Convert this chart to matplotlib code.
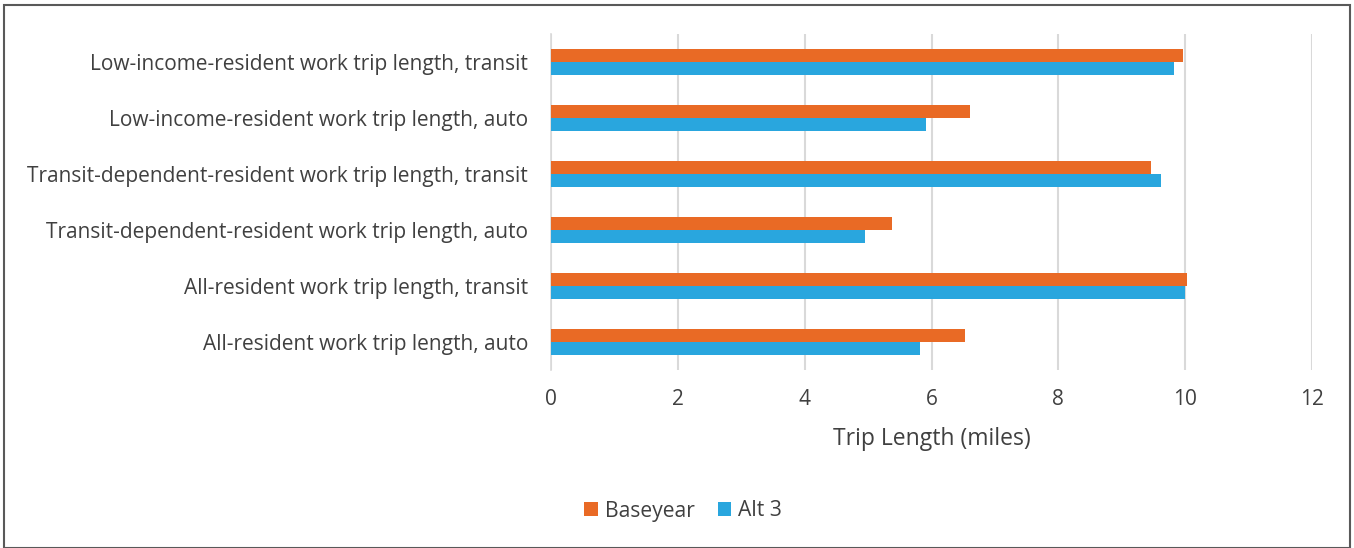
import matplotlib
matplotlib.use("Agg")
import matplotlib.pyplot as plt
import numpy as np
from matplotlib.patches import Rectangle

categories = [
    "All-resident work trip length, auto",
    "All-resident work trip length, transit",
    "Transit-dependent-resident work trip length, auto",
    "Transit-dependent-resident work trip length, transit",
    "Low-income-resident work trip length, auto",
    "Low-income-resident work trip length, transit",
]
baseyear = [6.53, 10.03, 5.38, 9.46, 6.60, 9.97]
alt3 = [5.82, 10.00, 4.95, 9.62, 5.92, 9.82]
series_names = ["Baseyear", "Alt 3"]
xticks = [0, 2, 4, 6, 8, 10, 12]

orange = "#E96A25"
blue = "#29A6DE"
text_color = "#404040"

plt.rcParams["font.family"] = ["Open Sans", "DejaVu Sans"]

fig = plt.figure(figsize=(13.54, 5.48), dpi=100)
ax = fig.add_axes([551 / 1354, 1 - 370 / 548, (1312 - 551) / 1354, (370 - 34) / 548])

y = np.arange(len(categories))
h = 0.24
ax.barh(y + h / 2, baseyear, height=h, color=orange, label=series_names[0], zorder=3)
ax.barh(y - h / 2, alt3, height=h, color=blue, label=series_names[1], zorder=3)

ax.set_xlim(0, 12)
ax.set_ylim(-0.5, len(categories) - 0.5)
ax.set_xticks(xticks)
ax.set_xticklabels([str(t) for t in xticks])
ax.set_yticks(y)
ax.set_yticklabels(categories)
ax.tick_params(axis="both", length=0, labelsize=15, colors=text_color)
ax.tick_params(axis="x", pad=14)
ax.tick_params(axis="y", pad=16.5)
ax.grid(axis="x", color="#D9D9D9", linewidth=1.5, zorder=0)
for s in ["top", "right", "bottom"]:
    ax.spines[s].set_visible(False)
ax.spines["left"].set_color("#D9D9D9")
ax.spines["left"].set_linewidth(1.2)
ax.set_xlabel("Trip Length (miles)", fontsize=16.5, color=text_color, labelpad=12)

leg = fig.legend(loc="center", bbox_to_anchor=(683 / 1354, 1 - 511 / 548), ncol=2,
                 frameon=False, fontsize=15.2, handlelength=0.65, handleheight=0.65,
                 handletextpad=0.3, columnspacing=1.1)
for t in leg.get_texts():
    t.set_color(text_color)

fig.patches.append(Rectangle((4 / 1354, 0), 1 - 8 / 1354, 1 - 5 / 548, transform=fig.transFigure,
                             fill=False, edgecolor="#595959", linewidth=1.5))

fig.savefig("out.png", dpi=100, facecolor="white")
